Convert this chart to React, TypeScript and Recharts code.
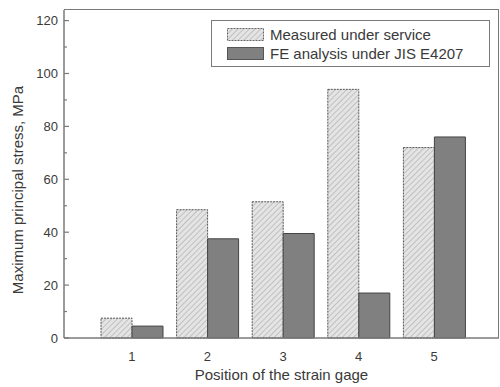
import { BarChart, Bar, XAxis, YAxis } from 'recharts'

const positions = ['1', '2', '3', '4', '5']
const measured = [7.5, 48.5, 51.5, 94, 72]
const feAnalysis = [4.5, 37.5, 39.5, 17, 76]
const yTicks = [0, 10, 20, 30, 40, 50, 60, 70, 80, 90, 100, 110, 120]
const yMax = 124
const seriesNames = ['Measured under service', 'FE analysis under JIS E4207']

const data = positions.map((p, i) => ({
  pos: p,
  measured: measured[i],
  fe: feAnalysis[i],
}))

const FONT = '"Liberation Sans", Arial, sans-serif'
const TEXT = '#3a3a3a'
const FRAME = '#7a7a7a'

const CHART_W = 500
const CHART_H = 387
const MARGIN = { top: 10, right: 1, left: 0, bottom: 0 }
const Y_AXIS_W = 64
const X_AXIS_H = 49

const YTick = (props: any) => {
  const { x, y, payload } = props
  const axisX = x + 6
  const major = payload.value % 20 === 0
  return (
    <g>
      <line x1={axisX} x2={axisX + (major ? 5 : 3)} y1={y} y2={y} stroke={FRAME} strokeWidth={1.2} />
      {major && (
        <text x={x} y={y} dy={4.5} textAnchor="end" fontSize={13} fontFamily={FONT} fill={TEXT}>
          {payload.value}
        </text>
      )}
    </g>
  )
}

// top and right edges of the plot box (left and bottom come from the axes)
const PlotFrame = () => (
  <div
    style={{
      position: 'absolute',
      left: MARGIN.left + Y_AXIS_W,
      top: MARGIN.top - 1,
      width: CHART_W - MARGIN.left - MARGIN.right - Y_AXIS_W,
      height: CHART_H - MARGIN.top - MARGIN.bottom - X_AXIS_H + 1,
      borderTop: `1.5px solid ${FRAME}`,
      borderRight: `1.5px solid ${FRAME}`,
      boxSizing: 'border-box',
      pointerEvents: 'none',
    }}
  />
)

// legend box drawn on top of the plot, like the original figure
const ChartLegend = () => (
  <div
    style={{
      position: 'absolute',
      left: 211,
      top: 20,
      width: 277,
      height: 45,
      border: `1.5px solid ${FRAME}`,
      background: '#fff',
      fontFamily: FONT,
      fontSize: 15,
      color: TEXT,
    }}
  >
    {seriesNames.map((name, i) => (
      <div key={name} style={{ display: 'flex', alignItems: 'center', height: 19, marginTop: i === 0 ? 4 : 0 }}>
        <svg width={37} height={13} style={{ marginLeft: 15, marginRight: 6 }}>
          <rect
            x={0.5}
            y={0.5}
            width={36}
            height={12}
            fill={i === 0 ? 'url(#hatch)' : '#808080'}
            stroke={i === 0 ? '#666' : '#555'}
            strokeDasharray={i === 0 ? '2 1' : undefined}
          />
        </svg>
        <span style={{ whiteSpace: 'nowrap' }}>{name}</span>
      </div>
    ))}
  </div>
)

export default function App() {
  return (
    <div style={{ position: 'absolute', left: 0, top: 0, width: CHART_W, height: CHART_H, background: '#fff' }}>
      <BarChart
        width={CHART_W}
        height={CHART_H}
        data={data}
        margin={MARGIN}
        barGap={0}
        barSize={31}
      >
        <defs>
          <pattern id="hatch" width={4} height={4} patternUnits="userSpaceOnUse" patternTransform="rotate(45)">
            <rect width={4} height={4} fill="#e4e4e4" />
            <line x1={0} y1={0} x2={0} y2={4} stroke="#a8a8a8" strokeWidth={1.2} />
          </pattern>
        </defs>
        <XAxis
          dataKey="pos"
          type="category"
          padding={{ left: 30, right: 27 }}
          height={X_AXIS_H}
          tickLine={false}
          tickMargin={8}
          axisLine={{ stroke: FRAME, strokeWidth: 1.5 }}
          tick={{ fontSize: 13, fontFamily: FONT, fill: TEXT }}
          label={({ viewBox }: any) => (
            <text
              x={viewBox.x + viewBox.width / 2}
              y={viewBox.y + 42}
              textAnchor="middle"
              fontSize={15}
              fontFamily={FONT}
              fill={TEXT}
            >
              Position of the strain gage
            </text>
          )}
        />
        <YAxis
          domain={[0, yMax]}
          ticks={yTicks}
          width={Y_AXIS_W}
          tickSize={0}
          tickMargin={6}
          tickLine={false}
          interval={0}
          axisLine={{ stroke: FRAME, strokeWidth: 1.5 }}
          tick={<YTick />}
          label={({ viewBox }: any) => {
            const cx = viewBox.x + 17
            const cy = viewBox.y + viewBox.height / 2 + 16
            return (
              <text
                x={cx}
                y={cy}
                transform={`rotate(-90, ${cx}, ${cy})`}
                textAnchor="middle"
                dominantBaseline="central"
                fontSize={15}
                fontFamily={FONT}
                fill={TEXT}
              >
                Maximum principal stress, MPa
              </text>
            )
          }}
        />
        <Bar dataKey="measured" name={seriesNames[0]} fill="url(#hatch)" stroke="#555" strokeDasharray="2 1" isAnimationActive={false} />
        <Bar dataKey="fe" name={seriesNames[1]} fill="#808080" stroke="#444" isAnimationActive={false} />
      </BarChart>
      <PlotFrame />
      <ChartLegend />
    </div>
  )
}
